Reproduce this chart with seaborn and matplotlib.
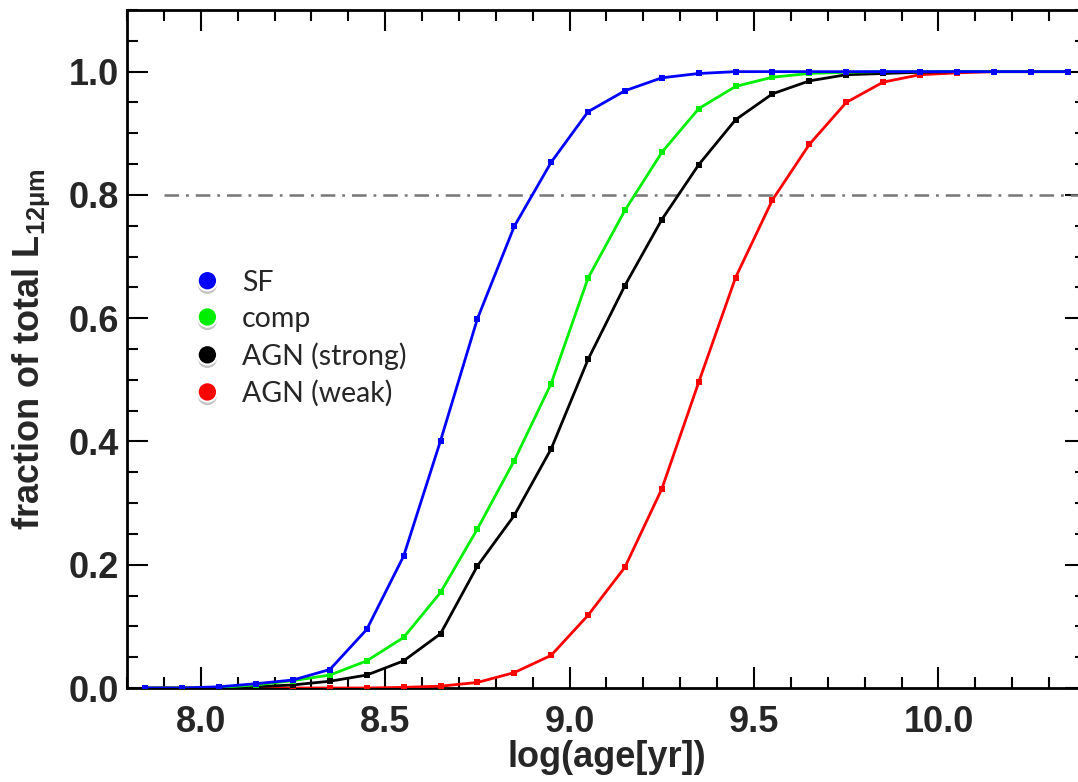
import numpy as np
import pandas as pd
import matplotlib
matplotlib.use("Agg")
import matplotlib.pyplot as plt
import matplotlib.patheffects as pe
from matplotlib.lines import Line2D
from matplotlib.ticker import MultipleLocator
import seaborn as sns

log_age = [7.85, 7.95, 8.05, 8.15, 8.25, 8.35, 8.45, 8.55, 8.65, 8.75, 8.85, 8.95, 9.05,
           9.15, 9.25, 9.35, 9.45, 9.55, 9.65, 9.75, 9.85, 9.95, 10.05, 10.15, 10.25, 10.35]

sf = [0.0, 0.0, 0.002, 0.007, 0.013, 0.03, 0.095, 0.214, 0.401, 0.599, 0.749, 0.853, 0.935,
      0.969, 0.990, 0.997, 1.0, 1.0, 1.0, 1.0, 1.0, 1.0, 1.0, 1.0, 1.0, 1.0]
comp = [0.0, 0.0, 0.001, 0.005, 0.012, 0.021, 0.044, 0.082, 0.155, 0.258, 0.369, 0.494, 0.665,
        0.775, 0.869, 0.940, 0.976, 0.991, 0.997, 0.999, 1.0, 1.0, 1.0, 1.0, 1.0, 1.0]
agn_strong = [0.0, 0.0, 0.0, 0.002, 0.005, 0.011, 0.021, 0.044, 0.088, 0.198, 0.280, 0.388, 0.533,
              0.653, 0.760, 0.849, 0.922, 0.964, 0.985, 0.995, 0.997, 0.999, 1.0, 1.0, 1.0, 1.0]
agn_weak = [0.0, 0.0, 0.0, 0.0, 0.0, 0.0, 0.0, 0.001, 0.003, 0.009, 0.025, 0.053, 0.118,
            0.196, 0.323, 0.496, 0.666, 0.792, 0.882, 0.950, 0.983, 0.995, 0.998, 1.0, 1.0, 1.0]

labels = ["SF", "comp", "AGN (strong)", "AGN (weak)"]
colors = ["#0000ff", "#00ee00", "#000000", "#ff0000"]
series = [sf, comp, agn_strong, agn_weak]
draw_order = [3, 2, 1, 0]  # blue on top

x_ticks = [8.0, 8.5, 9.0, 9.5, 10.0]
y_ticks = [0.0, 0.2, 0.4, 0.6, 0.8, 1.0]
threshold = 0.8

sns.set_theme(style="ticks")
plt.rcParams["font.family"] = ["Liberation Sans", "DejaVu Sans"]
plt.rcParams["font.weight"] = "bold"
plt.rcParams["mathtext.fontset"] = "custom"
plt.rcParams["mathtext.rm"] = "Liberation Sans"
plt.rcParams["mathtext.it"] = "Liberation Sans:italic"
plt.rcParams["mathtext.bf"] = "Liberation Sans:bold"
plt.rcParams["lines.scale_dashes"] = False

fig = plt.figure(figsize=(10.78, 7.82), dpi=100)
ax = fig.add_axes([0.1178, 0.1202, 0.8896, 0.867])

df = pd.DataFrame({"log_age": log_age * 4,
                   "frac": sf + comp + agn_strong + agn_weak,
                   "group": sum([[l] * len(log_age) for l in labels], [])})

for i in draw_order:
    sub = df[df["group"] == labels[i]]
    sns.lineplot(data=sub, x="log_age", y="frac", color=colors[i], marker="s",
                 markersize=5, markeredgewidth=0, linewidth=2.0, ax=ax, legend=False,
                 zorder=3 + (3 - i))

ax.plot([7.9, 10.4], [threshold, threshold], color="#777777", linewidth=1.8,
        linestyle=(0, (10.5, 5, 2, 5)), zorder=2)

ax.set_xlim(7.8, 10.4)
ax.set_ylim(0.0, 1.1)
ax.set_xticks(x_ticks)
ax.set_xticklabels([f"{t:.1f}" for t in x_ticks])
ax.set_yticks(y_ticks)
ax.set_yticklabels([f"{t:.1f}" for t in y_ticks])
ax.xaxis.set_minor_locator(MultipleLocator(0.1))
ax.yaxis.set_minor_locator(MultipleLocator(0.05))
ax.tick_params(which="both", direction="in", top=True, right=True, width=1.5, color="black")
ax.tick_params(which="major", length=15, labelsize=26)
ax.tick_params(axis="x", which="major", pad=12)
ax.tick_params(axis="y", which="major", pad=6)
ax.tick_params(which="minor", length=8)
for lab in ax.get_xticklabels() + ax.get_yticklabels():
    lab.set_fontweight("bold")
for s in ax.spines.values():
    s.set_linewidth(2)
    s.set_color("black")

ax.set_xlabel("log(age[yr])", fontsize=26, fontweight="bold", labelpad=0)
ax.set_ylabel(r"fraction of total L$_{\mathrm{12\mu m}}$", fontsize=26, fontweight="bold", labelpad=12)

shadow = [pe.SimplePatchShadow(offset=(0, -2.5), shadow_rgbFace="#555555", alpha=0.35), pe.Normal()]
handles = [Line2D([], [], linestyle="none", marker="o", markersize=14, markerfacecolor=c,
                  markeredgecolor="white", markeredgewidth=1.5, path_effects=shadow)
           for c in colors]
leg = ax.legend(handles, labels, loc="upper left", bbox_to_anchor=(0.069, 0.617), frameon=False,
                borderpad=0, borderaxespad=0,
                handlelength=1.0, handletextpad=0.72, labelspacing=0.36,
                prop={"family": "Lato", "size": 20.5, "weight": "normal"})

fig.savefig("out.png", dpi=100)
